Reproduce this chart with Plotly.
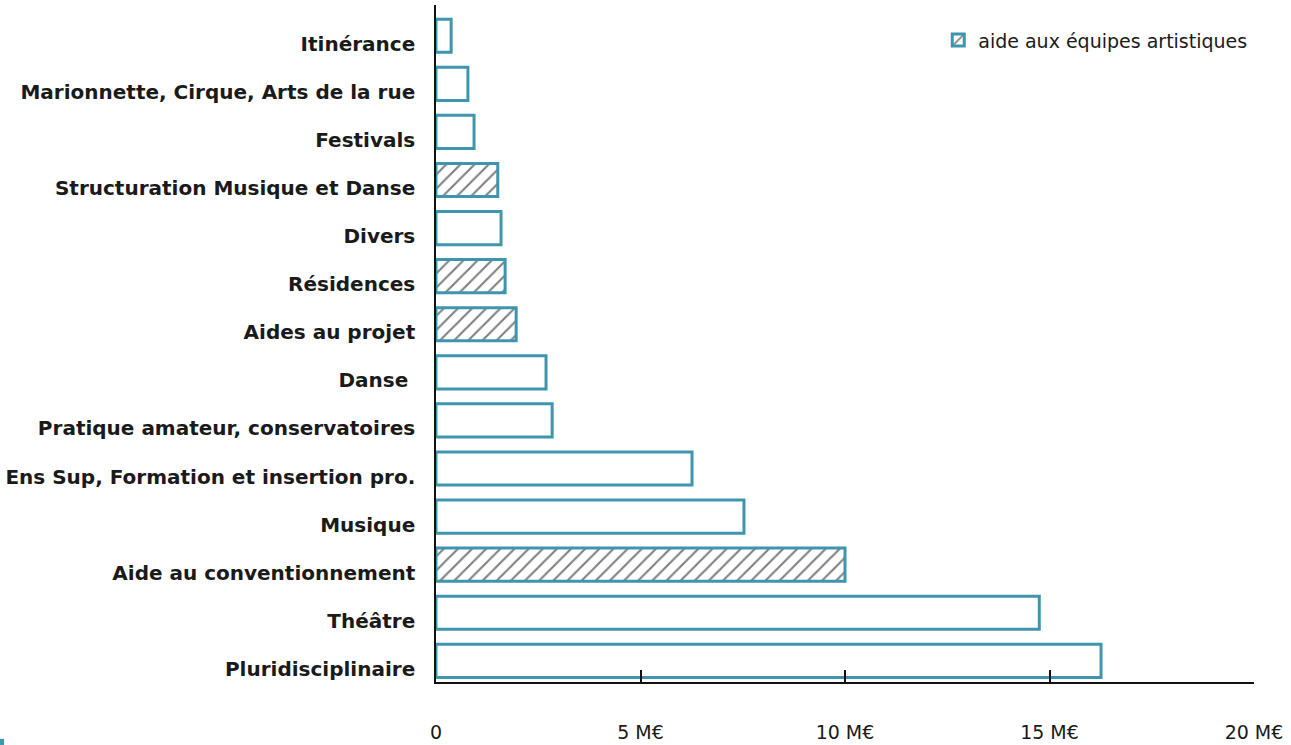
import plotly.graph_objects as go

categories = [
    "Pluridisciplinaire", "Théâtre", "Aide au conventionnement", "Musique",
    "Ens Sup, Formation et insertion pro.", "Pratique amateur, conservatoires",
    "Danse ", "Aides au projet", "Résidences", "Divers",
    "Structuration Musique et Danse", "Festivals",
    "Marionnette, Cirque, Arts de la rue", "Itinérance",
]
values = [16.26, 14.75, 10.0, 7.53, 6.26, 2.84, 2.69, 1.96, 1.69, 1.59, 1.51, 0.93, 0.78, 0.37]
hatched = [False, False, True, False, False, False, False, True, True, False, True, False, False, False]
x_ticks = [0, 5, 10, 15, 20]
x_tick_labels = ["0", "5 M€", "10 M€", "15 M€", "20 M€"]
legend_label = "aide aux équipes artistiques"

TEAL = "#3f95ae"
FONT = "DejaVu Sans"

plain_y = [c for c, h in zip(categories, hatched) if not h]
plain_x = [v for v, h in zip(values, hatched) if not h]
hatch_y = [c for c, h in zip(categories, hatched) if h]
hatch_x = [v for v, h in zip(values, hatched) if h]

fig = go.Figure()
fig.add_trace(go.Bar(
    y=plain_y, x=plain_x, orientation="h", width=0.69,
    marker=dict(color="white", line=dict(color=TEAL, width=3)),
    showlegend=False, name="autres",
))
fig.add_trace(go.Bar(
    y=hatch_y, x=hatch_x, orientation="h", width=0.69,
    marker=dict(color="white", line=dict(color=TEAL, width=3),
                pattern=dict(shape="/", fgcolor="#000000", bgcolor="white",
                             size=10, solidity=0.21)),
    showlegend=True, name=legend_label,
))

fig.add_shape(type="rect", xref="paper", yref="paper",
              x0=-0.533, x1=-0.528, y0=-0.093, y1=-0.084,
              fillcolor=TEAL, line=dict(width=0))

fig.update_layout(
    width=1291, height=745,
    margin=dict(l=436, r=37, t=5, b=63, autoexpand=False),
    plot_bgcolor="white", paper_bgcolor="white",
    barmode="overlay",
    font=dict(family=FONT, color="#1a1a1a"),
    showlegend=True,
    legend=dict(x=0.614, xanchor="left", y=0.976, yanchor="top",
                font=dict(size=19, family=FONT, color="#1a1a1a"),
                bgcolor="rgba(0,0,0,0)"),
    xaxis=dict(
        range=[0, 20], tickvals=x_ticks, ticktext=x_tick_labels,
        automargin=False,
        showgrid=False, zeroline=False, showline=True, linecolor="#111111",
        linewidth=1.5, ticks="inside", ticklen=12, tickwidth=1.5, tickcolor="#111111",
        ticklabelstandoff=32,
        tickfont=dict(size=19, family=FONT, color="#1a1a1a"),
    ),
    yaxis=dict(
        categoryorder="array", categoryarray=categories,
        range=[-0.44, 13.64], automargin=False,
        showgrid=False, zeroline=False, showline=True, linecolor="#111111",
        linewidth=1.5, ticks="", ticklabelstandoff=15, ticklabelshift=8,
        tickfont=dict(size=20, family=FONT, color="#1a1a1a", weight="bold"),
    ),
)

fig.write_html("out.html", config={"displayModeBar": False},
               post_script="document.body.style.margin='0';")
